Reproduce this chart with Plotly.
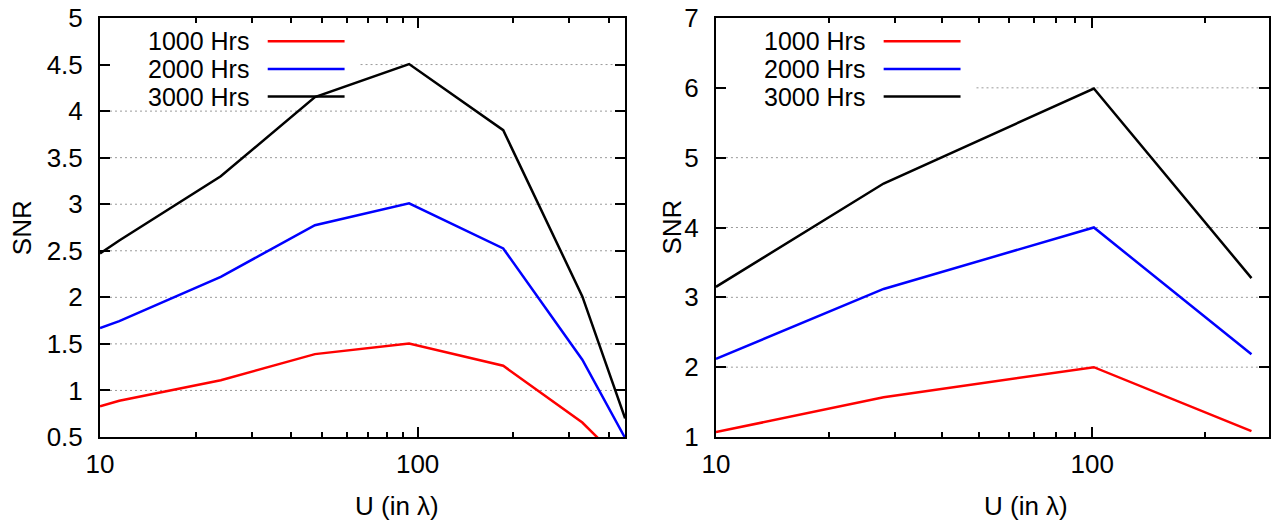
import math
import plotly.graph_objects as go

# ---------------- data ----------------
series_names = ["1000 Hrs", "2000 Hrs", "3000 Hrs"]
series_colors = ["#ff0000", "#0000ff", "#000000"]

left_u = [10, 11.5, 24, 47.5, 94, 186, 330, 450]
left_1000 = [0.83, 0.89, 1.11, 1.39, 1.505, 1.265, 0.655, 0.20]
left_2000 = [1.67, 1.745, 2.22, 2.775, 3.01, 2.525, 1.33, 0.49]
left_3000 = [2.47, 2.61, 3.30, 4.15, 4.505, 3.795, 2.01, 0.70]

right_u = [10, 27.9, 101, 265]
right_1000 = [1.07, 1.57, 2.0, 1.085]
right_2000 = [2.12, 3.12, 4.0, 2.185]
right_3000 = [3.15, 4.63, 5.99, 3.275]

left_yticks = [0.5, 1, 1.5, 2, 2.5, 3, 3.5, 4, 4.5, 5]
right_yticks = [1, 2, 3, 4, 5, 6, 7]
x_major = [10, 100]
left_x_minor = [20, 30, 40, 50, 60, 70, 80, 90, 200, 300, 400]
right_x_minor = [20, 30, 40, 50, 60, 70, 80, 90, 200]

# ---------------- layout geometry ----------------
W, H = 1274, 527
ML, MR, MT, MB = 100, 3, 13, 90
PW = W - ML - MR
PH = H - MT - MB
left_px = (100, 626)
right_px = (717, 1271)


def px2paper_x(px):
    return (px - ML) / PW


def py2paper_y(py):
    return (H - MB - py) / PH


FONT = "Liberation Sans, Arial, Helvetica, sans-serif"
FS = 26
KEY_FS = 25

fig = go.Figure()

panels = [
    ("x", "y", left_u, [left_1000, left_2000, left_3000]),
    ("x2", "y2", right_u, [right_1000, right_2000, right_3000]),
]
for xa, ya, u, ys in panels:
    for name, color, vals in zip(series_names, series_colors, ys):
        fig.add_trace(go.Scatter(
            x=u, y=vals, mode="lines", name=name, xaxis=xa, yaxis=ya,
            line=dict(color=color, width=2.5), showlegend=False,
        ))


def xaxis_cfg(domain, xmax, minor_vals):
    return dict(
        type="log", domain=domain, range=[1, math.log10(xmax)],
        tickmode="array", tickvals=x_major,
        ticks="inside", ticklen=10, tickwidth=1.5, tickcolor="black",
        minor=dict(tickmode="array", tickvals=minor_vals, ticks="inside",
                   ticklen=5, tickwidth=1.5, tickcolor="black", showgrid=False),
        showline=True, linewidth=2, linecolor="black", mirror="ticks",
        showgrid=False, zeroline=False,
        tickfont=dict(family=FONT, size=FS, color="black"),
        ticklabelstandoff=3, ticklabeloverflow="allow",
    )


def yaxis_cfg(anchor, rng, tickvals):
    return dict(
        anchor=anchor, range=rng, tickmode="array", tickvals=tickvals,
        ticks="inside", ticklen=10, tickwidth=1.5, tickcolor="black",
        showline=True, linewidth=2, linecolor="black", mirror="ticks",
        showgrid=False, zeroline=False,
        tickfont=dict(family=FONT, size=FS, color="black"),
        ticklabelstandoff=10, ticklabeloverflow="allow",
    )


ldom = [px2paper_x(left_px[0]), px2paper_x(left_px[1])]
rdom = [px2paper_x(right_px[0]), px2paper_x(right_px[1])]

fig.update_layout(
    width=W, height=H,
    margin=dict(l=ML, r=MR, t=MT, b=MB),
    paper_bgcolor="white", plot_bgcolor="white",
    showlegend=False,
    xaxis=xaxis_cfg(ldom, 450, left_x_minor) | dict(anchor="y"),
    yaxis=yaxis_cfg("x", [0.5, 5], left_yticks),
    xaxis2=xaxis_cfg(rdom, 295, right_x_minor) | dict(anchor="y2"),
    yaxis2=yaxis_cfg("x2", [1, 7], right_yticks),
)

shapes = []
annotations = []
row_py = [36.5, 64.5, 92.5]
KEY_TOP, KEY_BOTTOM, KEY_RIGHT = MT, 104, 261
for (x0px, x1px), xref, yref, yaxis_ref, yrng, yticks, title_x, snr_x in [
    (left_px, "x domain", "y domain", "y", [0.5, 5], left_yticks, 397.5, 21.5),
    (right_px, "x2 domain", "y2 domain", "y2", [1, 7], right_yticks, 1027.5, 672),
]:
    wpx = x1px - x0px

    def fx(off):
        return off / wpx

    def fy(py):
        return 1 - (py - MT) / PH

    # dotted horizontal grid lines at the y ticks, interrupted by the key box
    for t in yticks:
        if t <= yrng[0] or t >= yrng[1]:
            continue
        frac = (t - yrng[0]) / (yrng[1] - yrng[0])
        py = MT + (1 - frac) * PH
        start = fx(KEY_RIGHT) if KEY_TOP <= py <= KEY_BOTTOM else 0
        shapes.append(dict(type="line", xref=xref, yref=yaxis_ref,
                           x0=start, x1=1, y0=t, y1=t, layer="below",
                           line=dict(color="#9a9a9a", width=1, dash="2px,3px")))

    for name, color, py in zip(series_names, series_colors, row_py):
        annotations.append(dict(
            xref=xref, yref=yref, x=fx(151), y=fy(py), text=name,
            showarrow=False, xanchor="right", yanchor="middle",
            font=dict(family=FONT, size=KEY_FS, color="black")))
        shapes.append(dict(type="line", xref=xref, yref=yref,
                           x0=fx(168), x1=fx(245), y0=fy(py), y1=fy(py),
                           line=dict(color=color, width=2.5), layer="above"))
    annotations.append(dict(
        xref="paper", yref="paper", x=px2paper_x(title_x), y=py2paper_y(507),
        text="U (in λ)", showarrow=False, xanchor="center", yanchor="middle",
        font=dict(family=FONT, size=FS, color="black")))
    annotations.append(dict(
        xref="paper", yref="paper", x=px2paper_x(snr_x), y=py2paper_y(225),
        text="SNR", showarrow=False, xanchor="center", yanchor="middle",
        textangle=-90, font=dict(family=FONT, size=FS, color="black")))

fig.update_layout(shapes=shapes, annotations=annotations)
fig.write_html(
    "out.html",
    config={"displayModeBar": False},
    post_script="document.body.style.margin='0';document.body.style.padding='0';",
)
